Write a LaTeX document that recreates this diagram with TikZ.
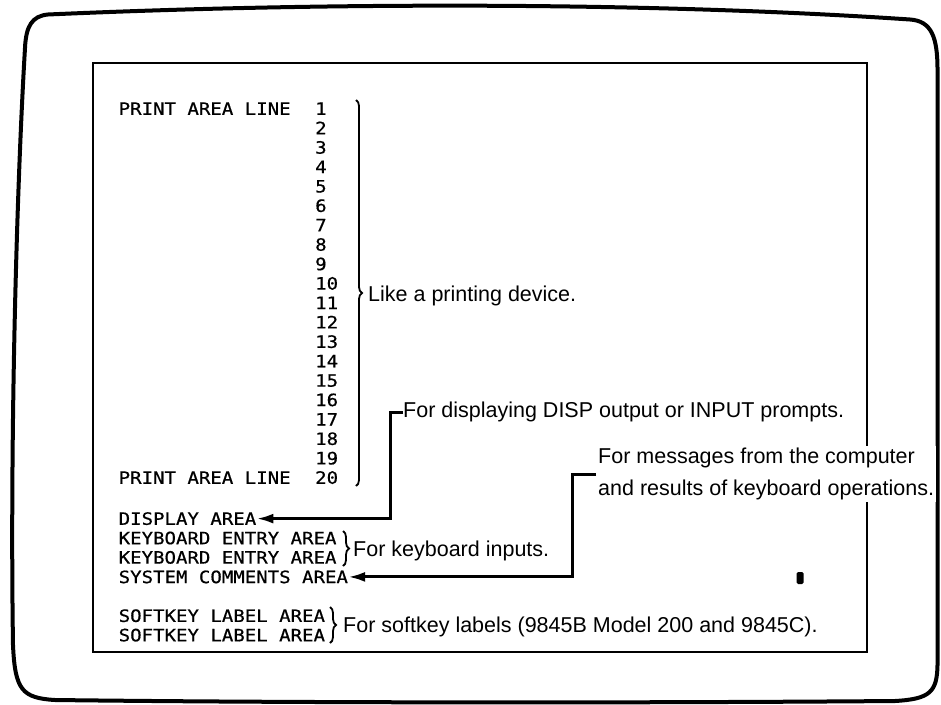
\documentclass[tikz,border=0pt]{standalone}
\usepackage{fontspec}
\setmainfont{Liberation Sans}
\newfontfamily\scrmono[FakeStretch=1.12,FakeBold=0.6]{DejaVu Sans Mono}
\usetikzlibrary{arrows.meta,decorations.pathreplacing}
\begin{document}
\begin{tikzpicture}[x=1pt,y=-1pt,
  mono/.style={font=\scrmono\fontsize{17}{19}\selectfont, inner sep=0pt, anchor=base west},
  note/.style={font=\fontsize{21.5}{32}\selectfont, inner sep=0pt, anchor=base west},
  conn/.style={line width=3pt, -{Latex[length=17pt,width=10pt]}},
  bracebox/.style={decorate, decoration={brace, amplitude=6pt}, line width=1.8pt},
  frame/.style={line width=4pt, line join=round},
  panel/.style={line width=1.6pt}]
\useasboundingbox (0,0) rectangle (941,704);
% outer screen outline
\draw[frame] (48,14.5) .. controls (330,2) and (650,2) .. (910,19.5)
  .. controls (932,21) and (937.5,38) .. (937.5,70)
  -- (937.5,665)
  .. controls (937,692) and (930,699) .. (895,701)
  .. controls (650,703) and (300,703) .. (55,700)
  .. controls (22,698) and (15,690) .. (13,645)
  .. controls (10,450) and (16,200) .. (25,48)
  .. controls (26,26) and (32,16) .. (48,14.5) -- cycle;
% inner panel
\draw[panel] (93,63) rectangle (867,652);
% print area
\node[mono] (pl1) at (118.5,114.8) {PRINT AREA LINE};
\node[mono] (pl20) at (118.5,{114.8+19*19.42}) {PRINT AREA LINE};
\foreach \i in {1,...,20} {
  \node[mono] (n\i) at (315,{114.8+(\i-1)*19.42}) {\i};
}
\draw[bracebox] (356,100) -- (356,486);
\node[note] (like) at (368,301) {Like a printing device.};
% lower areas
\node[mono] (disp) at (118.5,524.8) {DISPLAY AREA};
\node[mono] (kb1) at (118.5,544.2) {KEYBOARD ENTRY AREA};
\node[mono] (kb2) at (118.5,563.6) {KEYBOARD ENTRY AREA};
\node[mono] (sys) at (118.5,583.1) {SYSTEM COMMENTS AREA};
\node[mono] (sk1) at (118.5,621.9) {SOFTKEY LABEL AREA};
\node[mono] (sk2) at (118.5,641.3) {SOFTKEY LABEL AREA};
\draw[bracebox] (343,531) -- (343,566);
\node[note] (kbtxt) at (353,556) {For keyboard inputs.};
\draw[bracebox] (330,607) -- (330,643);
\node[note] (sktxt) at (343,632) {For softkey labels (9845B Model 200 and 9845C).};
% explanations with arrows
\node[note] (disptxt) at (403,417.7) {For displaying DISP output or INPUT prompts.};
\node[note, fill=white, inner sep=2pt, align=left] (msgtxt) at (596,495.7)
  {For messages from the computer\\and results of keyboard operations.};
\draw[conn] (disptxt.west) -- ++(-13,0) |- (disp.east);
\draw[conn] (msgtxt.west) -- ++(-24,0) |- (sys.east);
% cursor
\fill[rounded corners=1.5pt] (796.5,572) rectangle (803.5,584);
\end{tikzpicture}
\end{document}
